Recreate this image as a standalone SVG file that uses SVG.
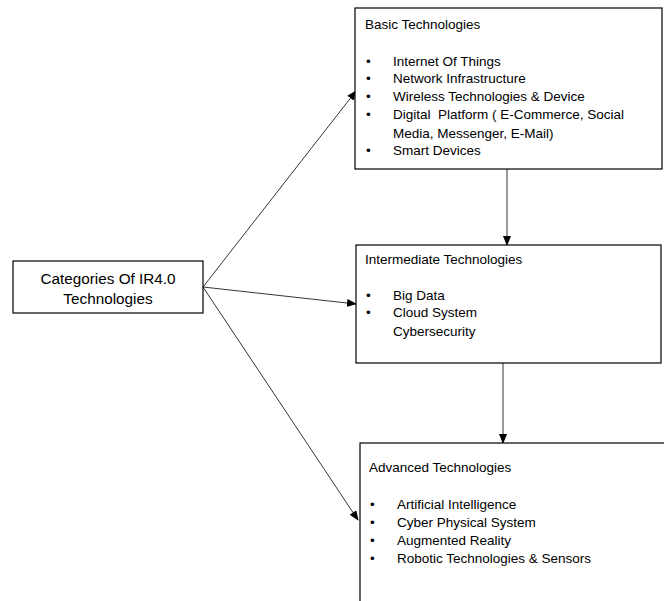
<svg xmlns="http://www.w3.org/2000/svg" width="664" height="601" viewBox="0 0 664 601">
<defs>
<style>
.box{fill:#fff;stroke:#000;stroke-width:1.2}
.t{font-family:"Liberation Sans",Arial,sans-serif;font-size:13.5px;fill:#000}
.c{font-family:"Liberation Sans",Arial,sans-serif;font-size:15.3px;fill:#000;text-anchor:middle}
.ln{stroke:#000;stroke-width:0.8;fill:none;marker-end:url(#ah)}
</style>
<marker id="ah" markerWidth="10" markerHeight="8" refX="9" refY="4" orient="auto" markerUnits="userSpaceOnUse">
<path d="M0,0 L10,4 L0,8 Z" fill="#000"/>
</marker>
</defs>
<rect width="664" height="601" fill="#fff"/>
<g id="connectors">
<line class="ln" x1="203" y1="287" x2="356" y2="91"/>
<line class="ln" x1="203" y1="287" x2="356" y2="304"/>
<line class="ln" x1="203" y1="287" x2="358" y2="520"/>
<line class="ln" x1="507" y1="169" x2="507" y2="245"/>
<line class="ln" x1="503" y1="363" x2="503" y2="443"/>
</g>
<g id="categories">
<rect class="box" x="13" y="261" width="190" height="52"/>
<text class="c" x="108" y="284">Categories Of IR4.0</text>
<text class="c" x="108" y="304">Technologies</text>
</g>
<g id="basic">
<rect class="box" x="355" y="8" width="307" height="161"/>
<text class="t" x="365" y="29">Basic Technologies</text>
<text class="t" x="366" y="66">•</text><text class="t" x="393" y="66">Internet Of Things</text>
<text class="t" x="366" y="83">•</text><text class="t" x="393" y="83">Network Infrastructure</text>
<text class="t" x="366" y="101">•</text><text class="t" x="393" y="101">Wireless Technologies &amp; Device</text>
<text class="t" x="366" y="119">•</text><text class="t" x="393" y="119" xml:space="preserve">Digital  Platform ( E-Commerce, Social</text>
<text class="t" x="393" y="138">Media, Messenger, E-Mail)</text>
<text class="t" x="366" y="155">•</text><text class="t" x="393" y="155">Smart Devices</text>
</g>
<g id="intermediate">
<rect class="box" x="356" y="245" width="305" height="118"/>
<text class="t" x="365" y="264">Intermediate Technologies</text>
<text class="t" x="366" y="300">•</text><text class="t" x="393" y="300">Big Data</text>
<text class="t" x="366" y="317">•</text><text class="t" x="393" y="317">Cloud System</text>
<text class="t" x="393" y="336">Cybersecurity</text>
</g>
<g id="advanced">
<rect class="box" x="360" y="443" width="310" height="170"/>
<text class="t" x="369" y="472">Advanced Technologies</text>
<text class="t" x="370" y="509">•</text><text class="t" x="397" y="509">Artificial Intelligence</text>
<text class="t" x="370" y="527">•</text><text class="t" x="397" y="527">Cyber Physical System</text>
<text class="t" x="370" y="545">•</text><text class="t" x="397" y="545">Augmented Reality</text>
<text class="t" x="370" y="563">•</text><text class="t" x="397" y="563">Robotic Technologies &amp; Sensors</text>
</g>
</svg>
